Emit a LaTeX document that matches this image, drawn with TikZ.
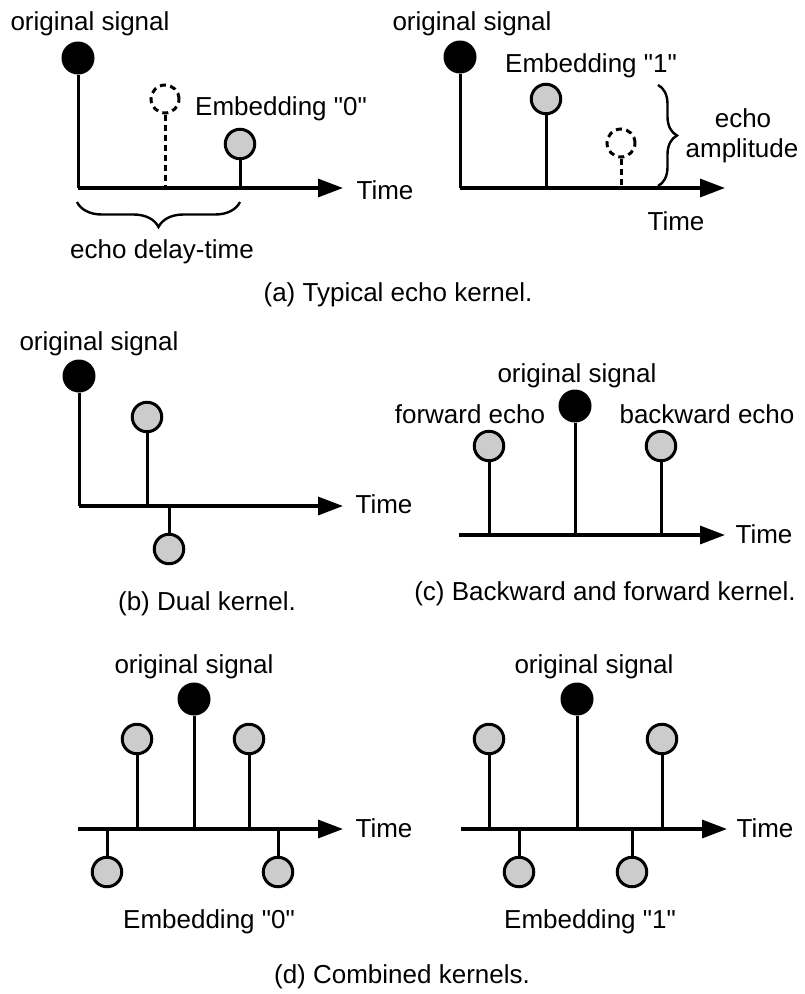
\documentclass[tikz,border=0pt]{standalone}
\usepackage{fontspec}
\setmainfont{Liberation Sans}[Ligatures=TeXOff]
\usetikzlibrary{arrows.meta,decorations.pathreplacing}
\definecolor{echogray}{rgb}{0.8,0.8,0.8}
\begin{document}
\begin{tikzpicture}[x=1pt,y=-1pt,
  lbl/.style={anchor=base,inner sep=0pt,font=\fontsize{26}{30}\selectfont},
  sig/.style={circle,fill=black,minimum size=33pt,inner sep=0pt},
  echo/.style={circle,draw,fill=echogray,line width=3pt,minimum size=29.5pt,inner sep=0pt},
  ghost/.style={circle,draw,dash pattern=on 6pt off 4.5pt,line width=3pt,minimum size=28pt,inner sep=0pt},
  stem/.style={line width=3pt},
  ghoststem/.style={line width=3pt,dash pattern=on 6pt off 4pt},
  timeaxis/.style={line width=3.2pt,-{Triangle[length=25pt,width=18pt]}},
  bracebar/.style={line width=2.4pt,decorate,decoration={brace,amplitude=#1}}]
\useasboundingbox (0,0) rectangle (805,994);

% ---------- (a) left: embedding "0" ----------
\coordinate (aLo) at (78,188);
\coordinate (aLend) at (343,188);
\draw[timeaxis] (aLo) -- (aLend);
\node[sig] (aLs) at (78,58) {};
\node[ghost] (aLg) at (165,99) {};
\node[echo] (aLe) at (240,144) {};
\draw[stem] (aLs.south) -- (aLo);
\draw[ghoststem] (aLg.south) -- (aLg |- aLo);
\draw[stem] (aLe.south) -- (aLe |- aLo);
\node[lbl] (aLsl) at (90,30) {original signal};
\node[lbl] (aLel) at (281,115) {Embedding "0"};
\node[lbl] (aLt) at (385,199) {Time};
\coordinate (aLb1) at (77,202);
\coordinate (aLb2) at (240,202);
\draw[bracebar=25pt,decoration={mirror}] (aLb1) -- (aLb2);
\node[lbl] (aLdl) at (162,258) {echo delay-time};

% ---------- (a) right: embedding "1" ----------
\coordinate (aRo) at (460,188);
\coordinate (aRend) at (725,188);
\draw[timeaxis] (aRo) -- (aRend);
\node[sig] (aRs) at (460,57) {};
\node[echo] (aRe) at (546,99) {};
\node[ghost] (aRg) at (621,143) {};
\draw[stem] (aRs.south) -- (aRo);
\draw[stem] (aRe.south) -- (aRe |- aRo);
\draw[ghoststem] (aRg.south) -- (aRg |- aRo);
\node[lbl] (aRsl) at (472,30) {original signal};
\node[lbl] (aRel) at (591,72) {Embedding "1"};
\node[lbl] (aRt) at (676,230) {Time};
\coordinate (aRb1) at (658,85);
\coordinate (aRb2) at (658,186);
\draw[bracebar=19pt] (aRb1) -- (aRb2);
\node[lbl] (aRa1) at (743,127) {echo};
\node[lbl] (aRa2) at (742,157) {amplitude};

\node[lbl] (capa) at (398,301) {(a) Typical echo kernel.};

% ---------- (b) dual kernel ----------
\coordinate (bo) at (79,506);
\coordinate (bend) at (343,506);
\draw[timeaxis] (bo) -- (bend);
\node[sig] (bs) at (79,376) {};
\node[echo] (bu) at (147,417) {};
\node[echo] (bd) at (169,549) {};
\draw[stem] (bs.south) -- (bo);
\draw[stem] (bu.south) -- (bu |- bo);
\draw[stem] (bd.north) -- (bd |- bo);
\node[lbl] (bsl) at (99,350) {original signal};
\node[lbl] (bt) at (384,513) {Time};
\node[lbl] (capb) at (207,610) {(b) Dual kernel.};

% ---------- (c) backward and forward kernel ----------
\coordinate (co) at (459,535);
\coordinate (cend) at (725,535);
\draw[timeaxis] (co) -- (cend);
\node[sig] (cs) at (575,406) {};
\node[echo] (cf) at (489,446) {};
\node[echo] (cb) at (661,446) {};
\draw[stem] (cs.south) -- (cs |- co);
\draw[stem] (cf.south) -- (cf |- co);
\draw[stem] (cb.south) -- (cb |- co);
\node[lbl] (csl) at (577,382) {original signal};
\node[lbl] (cfl) at (470,423) {forward echo};
\node[lbl] (cbl) at (707,423) {backward echo};
\node[lbl] (ct) at (764,543) {Time};
\node[lbl] (capc) at (605,600) {(c) Backward and forward kernel.};

% ---------- (d) left: combined kernel, embedding "0" ----------
\coordinate (dLo) at (78,829);
\coordinate (dLend) at (343,829);
\draw[timeaxis] (dLo) -- (dLend);
\node[sig] (dLs) at (194,699) {};
\node[echo] (dLu1) at (137,739) {};
\node[echo] (dLu2) at (249,739) {};
\node[echo] (dLd1) at (107,872) {};
\node[echo] (dLd2) at (278,872) {};
\draw[stem] (dLs.south) -- (dLs |- dLo);
\draw[stem] (dLu1.south) -- (dLu1 |- dLo);
\draw[stem] (dLu2.south) -- (dLu2 |- dLo);
\draw[stem] (dLd1.north) -- (dLd1 |- dLo);
\draw[stem] (dLd2.north) -- (dLd2 |- dLo);
\node[lbl] (dLsl) at (194,673) {original signal};
\node[lbl] (dLt) at (384,837) {Time};
\node[lbl] (dLel) at (209,928) {Embedding "0"};

% ---------- (d) right: combined kernel, embedding "1" ----------
\coordinate (dRo) at (461,829);
\coordinate (dRend) at (727,829);
\draw[timeaxis] (dRo) -- (dRend);
\node[sig] (dRs) at (577,699) {};
\node[echo] (dRu1) at (489,739) {};
\node[echo] (dRu2) at (662,739) {};
\node[echo] (dRd1) at (519,872) {};
\node[echo] (dRd2) at (632,872) {};
\draw[stem] (dRs.south) -- (dRs |- dRo);
\draw[stem] (dRu1.south) -- (dRu1 |- dRo);
\draw[stem] (dRu2.south) -- (dRu2 |- dRo);
\draw[stem] (dRd1.north) -- (dRd1 |- dRo);
\draw[stem] (dRd2.north) -- (dRd2 |- dRo);
\node[lbl] (dRsl) at (594,673) {original signal};
\node[lbl] (dRt) at (765,837) {Time};
\node[lbl] (dRel) at (590,928) {Embedding "1"};

\node[lbl] (capd) at (402,983) {(d) Combined kernels.};
\end{tikzpicture}
\end{document}
